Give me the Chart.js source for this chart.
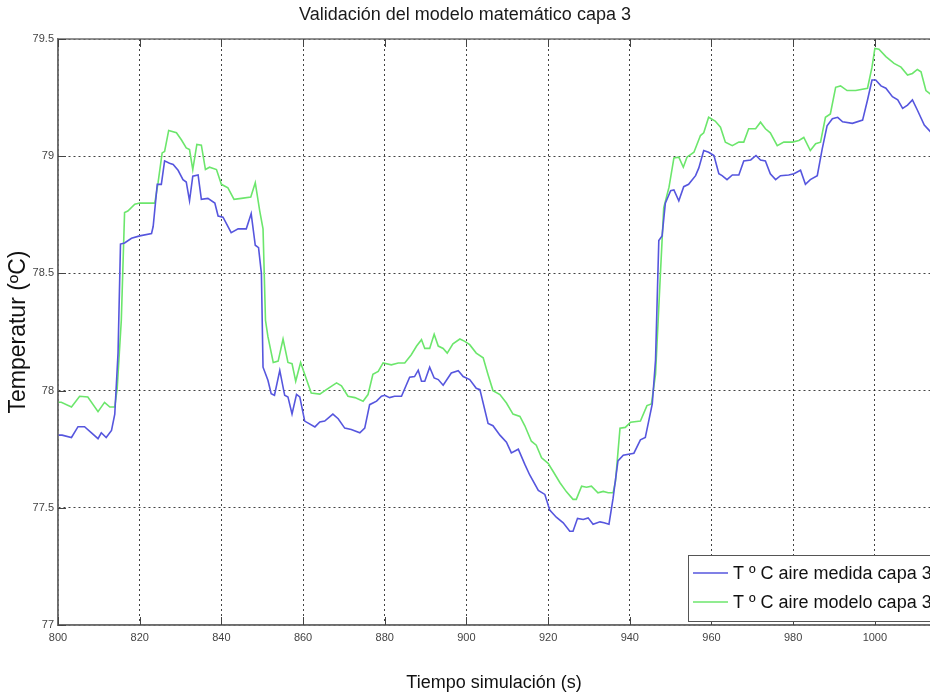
<!DOCTYPE html>
<html>
<head>
<meta charset="utf-8">
<script src="https://cdn.jsdelivr.net/npm/chart.js@4.4.0/dist/chart.umd.min.js"></script>
<style>
  html, body { margin: 0; padding: 0; background: #fff; overflow: hidden; }
  #wrap { width: 930px; height: 698px; }
</style>
</head>
<body>
<div id="wrap"><canvas id="myChart" width="930" height="698"></canvas></div>
<script>
// tick labels
const xTicks = [800, 820, 840, 860, 880, 900, 920, 940, 960, 980, 1000];
const yTicks = [77, 77.5, 78, 78.5, 79, 79.5];

// measured series (time in s, temperature in ºC)
const tMedida = [800, 801, 803.3, 804.9, 806.5, 808.2, 809.8, 810.6, 811.8, 813.1, 813.9, 814.7, 815.3, 816.3, 818, 820, 822.9, 823.3, 824.3, 825.3,
  826.1, 827.3, 828.2, 829.4, 830.6, 831.4, 832.2, 833, 834.3, 835.1, 836.7, 838.4, 839.2, 840.4, 842.4, 844.1, 846.1, 847.3, 848.3, 849.1,
  849.8, 850.2, 851.4, 852.2, 853, 854.3, 855.5, 856.3, 857.3, 858.4, 859.2, 860.4, 862.9, 864.1, 865.3, 867.3, 868.6, 870.2, 871.8, 873.9,
  875.1, 876.3, 878, 879.2, 880, 881.2, 882.4, 884.1, 886.1, 887.3, 888.2, 889, 889.8, 891, 892.1, 893.1, 894.3, 896.3, 898, 899.2,
  900.8, 902.4, 903.3, 905.3, 906.5, 908.2, 909.8, 911, 912.7, 914.3, 915.5, 917.6, 919.2, 920.4, 922, 923.7, 925.3, 926.1, 927.2, 928.6,
  929.8, 931, 932.7, 933.7, 934.9, 935.9, 937.1, 938.4, 941, 942.6, 943.8, 945.5, 946.3, 947.1, 947.9, 948.7, 950, 950.8, 952, 953.2,
  954.4, 956.1, 956.9, 958.1, 959.3, 960.6, 961.8, 962.6, 963.8, 965.1, 966.7, 967.9, 969.6, 970.9, 972, 973.2, 974.4, 975.7, 976.9, 978.9,
  980.2, 981.8, 983, 984.2, 985.9, 987.1, 988.3, 989.6, 990.9, 992.1, 994.5, 997, 998.2, 999.3, 1000.2, 1001.5, 1002.7, 1004.3, 1005.6, 1006.8,
  1008, 1009.2, 1010.4, 1012.1, 1014];
const medida = [77.81, 77.81, 77.80, 77.846, 77.846, 77.82, 77.795, 77.82, 77.80, 77.83, 77.90, 78.16, 78.625, 78.63, 78.65, 78.66, 78.67, 78.70, 78.88, 78.88,
  78.98, 78.97, 78.965, 78.94, 78.90, 78.89, 78.81, 78.915, 78.92, 78.816, 78.82, 78.80, 78.745, 78.74, 78.674, 78.69, 78.69, 78.755, 78.62, 78.61,
  78.50, 78.10, 78.044, 77.987, 77.98, 78.086, 77.98, 77.973, 77.90, 77.984, 77.973, 77.87, 77.845, 77.866, 77.87, 77.90, 77.88, 77.84, 77.834, 77.82,
  77.84, 77.94, 77.955, 77.976, 77.98, 77.97, 77.976, 77.976, 78.057, 78.06, 78.087, 78.04, 78.04, 78.10, 78.054, 78.047, 78.023, 78.075, 78.085, 78.06,
  78.047, 78.01, 78.004, 77.86, 77.85, 77.81, 77.78, 77.734, 77.75, 77.685, 77.64, 77.574, 77.557, 77.49, 77.46, 77.436, 77.40, 77.40, 77.455, 77.45,
  77.457, 77.43, 77.44, 77.436, 77.43, 77.54, 77.70, 77.724, 77.733, 77.79, 77.80, 77.943, 78.13, 78.64, 78.66, 78.80, 78.853, 78.856, 78.81, 78.87,
  78.88, 78.917, 78.95, 79.024, 79.017, 79.003, 78.925, 78.917, 78.90, 78.92, 78.92, 78.98, 78.984, 79.003, 78.984, 78.98, 78.925, 78.90, 78.917, 78.92,
  78.925, 78.94, 78.88, 78.90, 78.917, 79.03, 79.13, 79.16, 79.166, 79.147, 79.14, 79.154, 79.24, 79.325, 79.325, 79.30, 79.29, 79.254, 79.24, 79.204,
  79.218, 79.24, 79.197, 79.133, 79.097];

// model series
const tModelo = [800, 800.8, 803.3, 805.3, 807.3, 809.8, 811.4, 812.7, 813.9, 814.5, 815.5, 816.3, 817.1, 818.8, 820, 823.7, 824.5, 825.5, 826.1, 827.1,
  829, 830.2, 831.4, 832.2, 833, 834, 835.1, 836.1, 837.1, 838.8, 840, 841.6, 843.1, 844.9, 847.2, 848.3, 849.4, 850.2, 850.8, 851.4,
  852.7, 853.9, 855.1, 856.3, 857.3, 858.2, 859.4, 860.4, 862, 864.1, 865.7, 868.2, 869.4, 871, 872.7, 874.7, 875.9, 877.1, 878.4, 879.6,
  881.6, 883.3, 884.9, 886.5, 887.8, 889, 889.8, 891, 892.1, 893.1, 894.3, 895.3, 896.7, 898.4, 899.6, 900.8, 902.4, 904.1, 905.3, 906.5,
  908.2, 909.8, 911.4, 913.1, 914.3, 915.9, 917.1, 918.4, 920, 921.2, 922.9, 924.5, 926.1, 926.9, 928.2, 929.4, 930.6, 932.2, 933.5, 934.7,
  935.9, 936.5, 937.6, 938.9, 940.2, 942.6, 944.2, 945.3, 946.3, 947.5, 948.3, 949.6, 950.8, 952, 953.1, 954, 955.7, 957.3, 958.1, 959.3,
  960.9, 962.2, 963.4, 965.1, 966.7, 967.9, 969.1, 970.8, 972, 973.2, 974.4, 976.1, 977.7, 979.8, 981.4, 982.6, 984.2, 985.5, 986.7, 987.9,
  989.1, 990.4, 991.6, 993.2, 995.3, 998.2, 999.3, 1000, 1001, 1002.7, 1004.7, 1006.4, 1008, 1009.2, 1010.4, 1011.3, 1012.5, 1014];
const modelo = [77.95, 77.95, 77.93, 77.976, 77.973, 77.91, 77.95, 77.93, 77.93, 78.01, 78.30, 78.76, 78.766, 78.795, 78.80, 78.80, 78.887, 79.014, 79.02, 79.11,
  79.10, 79.07, 79.035, 79.028, 78.943, 79.05, 79.047, 78.943, 78.953, 78.943, 78.88, 78.865, 78.816, 78.82, 78.826, 78.887, 78.766, 78.69, 78.30, 78.23,
  78.12, 78.126, 78.22, 78.12, 78.115, 78.04, 78.12, 78.07, 77.99, 77.985, 78.004, 78.033, 78.02, 77.976, 77.97, 77.955, 77.983, 78.07, 78.082, 78.118,
  78.11, 78.118, 78.118, 78.153, 78.19, 78.217, 78.18, 78.18, 78.24, 78.19, 78.18, 78.16, 78.20, 78.22, 78.21, 78.196, 78.16, 78.14, 78.068, 78.0,
  77.983, 77.947, 77.90, 77.89, 77.85, 77.784, 77.767, 77.713, 77.69, 77.656, 77.607, 77.568, 77.536, 77.536, 77.592, 77.588, 77.592, 77.564, 77.57, 77.564,
  77.564, 77.614, 77.84, 77.843, 77.865, 77.87, 77.936, 77.943, 78.07, 78.50, 78.78, 78.868, 78.993, 78.996, 78.953, 78.996, 79.017, 79.088, 79.10, 79.166,
  79.15, 79.124, 79.06, 79.045, 79.06, 79.06, 79.117, 79.117, 79.145, 79.117, 79.10, 79.045, 79.06, 79.06, 79.067, 79.08, 79.024, 79.053, 79.06, 79.166,
  79.18, 79.294, 79.30, 79.28, 79.28, 79.29, 79.38, 79.46, 79.456, 79.425, 79.396, 79.38, 79.346, 79.353, 79.37, 79.36, 79.28, 79.26];

const toPoints = (xs, ys) => xs.map((x, i) => ({ x: x, y: ys[i] }));

const sans = "'Liberation Sans', Arial, sans-serif";

// matlab style box, inward ticks and the legend inside the axes
const matlabBox = {
  id: 'matlabBox',
  afterDatasetsDraw(chart) {
    const { ctx, chartArea: a, scales } = chart;
    ctx.save();
    ctx.strokeStyle = '#6e6e6e';
    ctx.lineWidth = 1.5;
    ctx.strokeRect(a.left, a.top, a.right - a.left + 4, a.bottom - a.top);
    ctx.lineWidth = 1;
    ctx.strokeStyle = '#444';
    xTicks.forEach(v => {
      const px = Math.round(scales.x.getPixelForValue(v)) + 0.5;
      ctx.beginPath();
      ctx.moveTo(px, a.bottom); ctx.lineTo(px, a.bottom - 8);
      ctx.moveTo(px, a.top); ctx.lineTo(px, a.top + 8);
      ctx.stroke();
    });
    yTicks.forEach(v => {
      const py = Math.round(scales.y.getPixelForValue(v)) + 0.5;
      ctx.beginPath();
      ctx.moveTo(a.left, py); ctx.lineTo(a.left + 8, py);
      ctx.stroke();
    });

    // legend
    const bx = a.right - 242, by = a.bottom - 70;
    ctx.fillStyle = '#fff';
    ctx.fillRect(bx, by, 300, 66);
    ctx.strokeStyle = '#555';
    ctx.lineWidth = 1;
    ctx.strokeRect(bx + 0.5, by + 0.5, 300, 66);
    ctx.font = '18px ' + sans;
    ctx.textBaseline = 'middle';
    ctx.textAlign = 'left';
    chart.data.datasets.forEach((ds, i) => {
      const ly = by + 18 + i * 29;
      ctx.strokeStyle = ds.borderColor;
      ctx.lineWidth = 1.5;
      ctx.beginPath();
      ctx.moveTo(bx + 5, ly); ctx.lineTo(bx + 40, ly);
      ctx.stroke();
      ctx.fillStyle = '#111';
      ctx.fillText(ds.label, bx + 45, ly + 1);
    });
    ctx.restore();
  }
};

const ctx = document.getElementById('myChart').getContext('2d');
new Chart(ctx, {
  type: 'line',
  data: {
    datasets: [
      {
        label: 'T º C aire medida capa 3',
        data: toPoints(tMedida, medida),
        borderColor: 'rgb(86, 86, 222)',
        borderWidth: 1.6,
        pointRadius: 0,
        tension: 0
      },
      {
        label: 'T º C aire modelo capa 3',
        data: toPoints(tModelo, modelo),
        borderColor: 'rgb(108, 230, 108)',
        borderWidth: 1.6,
        pointRadius: 0,
        tension: 0
      }
    ]
  },
  options: {
    responsive: false,
    animation: false,
    layout: { padding: 0 },
    plugins: {
      legend: { display: false },
      tooltip: { enabled: false },
      title: {
        display: true,
        text: 'Validación del modelo matemático capa 3',
        color: '#1a1a1a',
        font: { family: sans, size: 18, weight: 'normal' },
        padding: { top: 4.2, bottom: 13.2 }
      }
    },
    scales: {
      x: {
        type: 'linear',
        min: 800,
        max: 1013.5,
        afterFit: s => { s.height = 73; },
        afterBuildTicks: s => { s.ticks = xTicks.map(v => ({ value: v })); },
        ticks: {
          color: '#444',
          font: { family: sans, size: 11 },
          padding: 6,
          maxRotation: 0,
          callback: v => String(v)
        },
        grid: { color: 'rgba(20,20,20,0.8)', lineWidth: 1, tickLength: 0, drawTicks: false },
        border: { display: true, color: '#6e6e6e', width: 1.5, dash: [2, 3] },
        title: {
          display: true,
          text: 'Tiempo simulación (s)',
          color: '#111',
          font: { family: sans, size: 18 },
          padding: { top: 0, bottom: 4.2 }
        }
      },
      y: {
        type: 'linear',
        min: 77,
        max: 79.5,
        afterFit: s => { s.width = 58; },
        afterBuildTicks: s => { s.ticks = yTicks.map(v => ({ value: v })); },
        ticks: {
          color: '#444',
          font: { family: sans, size: 11 },
          padding: 4,
          callback: v => String(v)
        },
        grid: { color: 'rgba(20,20,20,0.8)', lineWidth: 1, tickLength: 0, drawTicks: false },
        border: { display: true, color: '#6e6e6e', width: 1.5, dash: [2, 3] },
        title: {
          display: true,
          text: 'Temperatur (ºC)',
          color: '#111',
          font: { family: sans, size: 23 },
          padding: { top: 5, bottom: 0 }
        }
      }
    }
  },
  plugins: [matlabBox]
});
</script>
</body>
</html>
